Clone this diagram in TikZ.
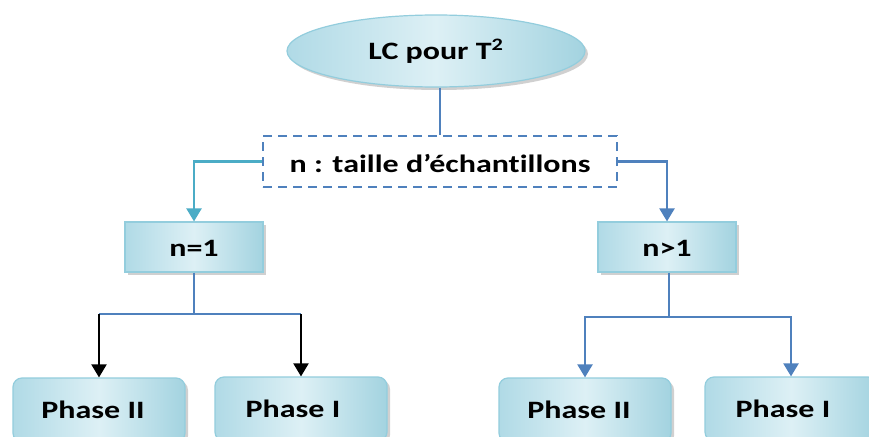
\documentclass[tikz,border=0pt]{standalone}
\usepackage{fontspec}
\setmainfont{Carlito}[Ligatures={NoCommon}]
\usetikzlibrary{shapes.geometric,shadows,arrows.meta}
\definecolor{bline}{HTML}{4F81BD}
\definecolor{tline}{HTML}{4BACC6}
\definecolor{boxedge}{HTML}{93CDDD}
\definecolor{boxdark}{HTML}{B0DAE6}
\definecolor{boxright}{HTML}{A3D3E0}
\definecolor{boxlight}{HTML}{DDF0F5}
\newcommand{\wtxt}[1]{\scalebox{1.28}[1]{\bfseries\fontsize{25}{28}\selectfont #1}}
\tikzset{
  fillbox/.style={draw=boxedge, line width=1.2pt, left color=boxdark, right color=boxright, middle color=boxlight,
    drop shadow={shadow xshift=3pt, shadow yshift=-3pt, fill=black!30, opacity=0.6}},
  condbox/.style={fillbox, rectangle, minimum width=138pt, minimum height=50pt, inner sep=0pt},
  phasebox/.style={fillbox, rectangle, rounded corners=9pt, minimum width=172pt, minimum height=64pt, inner sep=0pt},
  topell/.style={fillbox, ellipse, minimum width=298pt, minimum height=72pt, inner sep=0pt},
  dbox/.style={draw=bline, dashed, dash pattern=on 9pt off 6pt, line width=2pt, minimum width=354pt, minimum height=51pt, inner sep=0pt},
  conn/.style={draw=bline, line width=2.3pt},
  arr/.style={-{Triangle[width=15pt,length=13pt]}},
}
\begin{document}
\begin{tikzpicture}[x=1pt,y=-1pt]
\useasboundingbox (0,0) rectangle (869,436);
\clip (0,0) rectangle (869,436);
\fill[white] (0,0) rectangle (869,436);
% nodes
\node[topell] (lc) at (436,51) {};
\node at (436,51) {\wtxt{LC pour T\textsuperscript{2}}};
\node[dbox] (nb) at (440,161.5) {};
\node at (440,163) {\wtxt{n : taille d’échantillons}};
\node[condbox] (n1) at (194,247) {};
\node at (194,248) {\wtxt{n=1}};
\node[condbox] (ng) at (667,247) {};
\node at (667,248) {\wtxt{n>1}};
\node[phasebox] (p2l) at (99,410) {};
\node at (93,410) {\wtxt{Phase II}};
\node[phasebox] (p1l) at (301,409) {};
\node at (293,409) {\wtxt{Phase I}};
\node[phasebox] (p2r) at (585,410) {};
\node at (579,410) {\wtxt{Phase II}};
\node[phasebox] (p1r) at (791,409) {};
\node at (783,409) {\wtxt{Phase I}};
% junction coordinates
\coordinate (jl) at (194,314);
\coordinate (jr) at (669,317);
% connectors
\draw[conn] (lc.south -| nb.north) -- (nb.north);
\draw[conn, draw=tline, tline, arr] (nb.west) -| (n1.north);
\draw[conn, arr, bline] (nb.east) -| (ng.north);
\draw[conn] (n1.south) -- (jl);
\draw[conn] (p2l.north |- jl) -- (p1l.north |- jl);
\draw[line width=2pt, black, arr] (p2l.north |- jl) -- (p2l.north);
\draw[line width=2pt, black, arr] (p1l.north |- jl) -- (p1l.north);
\draw[conn] (ng.south -| jr) -- (jr);
\draw[conn, arr, bline] (jr) -| (p2r.north);
\draw[conn, arr, bline] (jr) -| (p1r.north);
\end{tikzpicture}
\end{document}
